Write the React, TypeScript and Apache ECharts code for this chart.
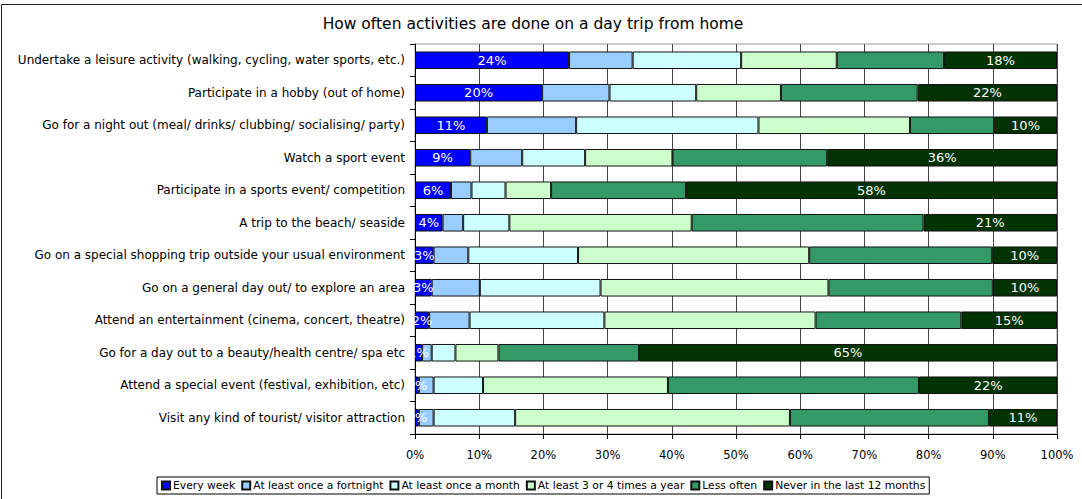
import React, { useEffect, useRef } from "react";
import * as echarts from "echarts";

const categories = [
  "Undertake a leisure activity (walking, cycling, water sports, etc.)",
  "Participate in a hobby (out of home)",
  "Go for a night out (meal/ drinks/ clubbing/ socialising/ party)",
  "Watch a sport event",
  "Participate in a sports event/ competition",
  "A trip to the beach/ seaside",
  "Go on a special shopping trip outside your usual environment",
  "Go on a general day out/ to explore an area",
  "Attend an entertainment (cinema, concert, theatre)",
  "Go for a day out to a beauty/health centre/ spa etc",
  "Attend a special event (festival, exhibition, etc)",
  "Visit any kind of tourist/ visitor attraction",
];

const seriesNames = [
  "Every week",
  "At least once a fortnight",
  "At least once a month",
  "At least 3 or 4 times a year",
  "Less often",
  "Never in the last 12 months",
];

const everyWeek = [24.0, 19.8, 11.2, 8.6, 5.6, 4.3, 2.9, 2.6, 2.2, 1.1, 0.6, 0.6];
const onceFortnight = [9.9, 10.5, 13.9, 8.1, 3.2, 3.2, 5.4, 7.5, 6.3, 1.5, 2.3, 2.3];
const onceMonth = [16.9, 13.5, 28.4, 9.8, 5.3, 7.2, 17.1, 18.8, 21.0, 3.7, 7.7, 12.7];
const threeFourYear = [14.9, 13.2, 23.6, 13.6, 7.1, 28.4, 36.0, 35.5, 32.9, 6.7, 28.8, 42.8];
const lessOften = [16.7, 21.3, 13.1, 24.1, 21.0, 36.1, 28.5, 25.6, 22.7, 21.9, 39.1, 31.0];
const neverLast12 = [17.6, 21.7, 9.8, 35.8, 57.8, 20.8, 10.1, 10.0, 14.9, 65.1, 21.6, 10.6];

const xTicks = [0, 10, 20, 30, 40, 50, 60, 70, 80, 90, 100];

const colors = ["#0000FF", "#99CCFF", "#CCFFFF", "#CCFFCC", "#339966", "#003300"];
const FONT = "DejaVu Sans";

export default function App() {
  const ref = useRef<HTMLDivElement>(null);
  useEffect(() => {
    if (!ref.current) return;
    const chart = echarts.init(ref.current, undefined, { renderer: "svg" });
    const values = [everyWeek, onceFortnight, onceMonth, threeFourYear, lessOften, neverLast12];
    const series = values.map((arr, i) => ({
      name: seriesNames[i],
      type: "bar",
      stack: "total",
      barCategoryGap: "46%",
      data: arr,
      itemStyle: { color: colors[i], borderColor: "#111", borderWidth: 1 },
      label: {
        show: i === 0 || i === 5,
        position: "inside",
        color: "#fff",
        fontFamily: FONT,
        fontSize: 13,
        formatter: (p: any) => Math.round(p.value) + "%",
      },
    }));
    chart.setOption({
      animation: false,
      backgroundColor: "#fff",
      title: {
        text: "How often activities are done on a day trip from home",
        left: 528,
        top: 11,
        textAlign: "center",
        textStyle: { fontFamily: FONT, fontSize: 15.5, fontWeight: "normal", color: "#000" },
      },
      graphic: [
        {
          type: "rect",
          shape: { x: 1.5, y: 4.5, width: 1200, height: 600 },
          style: { fill: "none", stroke: "#222", lineWidth: 1 },
          silent: true,
        },
      ],
      legend: {
        data: seriesNames,
        left: 157,
        top: 477,
        orient: "horizontal",
        icon: "rect",
        itemWidth: 8,
        itemHeight: 8,
        itemGap: 6,
        padding: [3, 4, 3, 4],
        borderColor: "#000",
        borderWidth: 1,
        textStyle: { fontFamily: FONT, fontSize: 10.75, color: "#000", padding: [0, 0, 0, -2] },
      },
      grid: {
        left: 415,
        right: 25,
        top: 44,
        bottom: 65,
        containLabel: false,
        show: true,
        borderColor: "#999",
        borderWidth: 1,
        backgroundColor: "#fff",
      },
      xAxis: {
        type: "value",
        min: xTicks[0],
        max: xTicks[xTicks.length - 1],
        interval: 10,
        axisLine: { show: true, lineStyle: { color: "#000" } },
        axisTick: { show: true, length: 5, lineStyle: { color: "#000" } },
        splitLine: { show: true, lineStyle: { color: "#444", width: 1 } },
        axisLabel: {
          color: "#000",
          fontFamily: FONT,
          fontSize: 11.5,
          margin: 15,
          formatter: (v: number) => v + "%",
        },
      },
      yAxis: {
        type: "category",
        data: categories,
        inverse: true,
        axisLine: { show: true, lineStyle: { color: "#000" } },
        axisTick: { show: true, length: 5, lineStyle: { color: "#000" } },
        axisLabel: { color: "#000", fontFamily: FONT, fontSize: 12, margin: 10 },
      },
      series,
    });
    return () => chart.dispose();
  }, []);
  return (
    <div
      ref={ref}
      style={{ position: "fixed", left: 0, top: 0, width: 1082, height: 499 }}
    />
  );
}
